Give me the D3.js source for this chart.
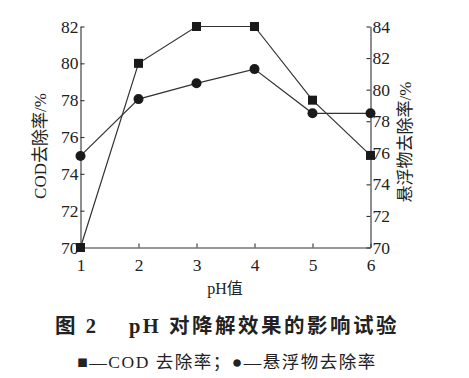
<!DOCTYPE html>
<html>
<head>
<meta charset="utf-8">
<script src="https://cdn.jsdelivr.net/npm/d3@7"></script>
<style>
body { margin: 0; background: #fff; }
svg text { font-family: "Liberation Serif", "Noto Sans CJK SC", serif; fill: #222; }
</style>
</head>
<body>
<script>
var ph = [1, 2, 3, 4, 5, 6];
var codRate = [70, 80, 82, 82, 78, 75];
var ssRate = [75.8, 79.4, 80.4, 81.3, 78.5, 78.5];
var leftTicks = [70, 72, 74, 76, 78, 80, 82];
var rightTicks = [70, 72, 74, 76, 78, 80, 82, 84];

var width = 469,
    height = 378;
var svg = d3.select('body').append('svg')
    .attr('width', width)
    .attr('height', height);

var x = d3.scaleLinear().domain([1, 6]).range([80.5, 370.5]);
var yL = d3.scaleLinear().domain([70, 82]).range([247.5, 26.5]);
var yR = d3.scaleLinear().domain([70, 84]).range([247.5, 26.5]);

var ink = '#333';

// axes, ticks pointing inward
var gx = svg.append('g').attr('transform', 'translate(0,247.5)')
    .call(d3.axisBottom(x).tickValues(ph).tickFormat(d3.format('d')).tickSizeInner(-4).tickSizeOuter(0).tickPadding(11));
var gl = svg.append('g').attr('transform', 'translate(80.5,0)')
    .call(d3.axisLeft(yL).tickValues(leftTicks).tickSizeInner(-4).tickSizeOuter(0).tickPadding(2));
var gr = svg.append('g').attr('transform', 'translate(370.5,0)')
    .call(d3.axisRight(yR).tickValues(rightTicks).tickSizeInner(-4).tickSizeOuter(0).tickPadding(2));

[gx, gl, gr].forEach(function(g) {
    g.selectAll('path, line').attr('stroke', ink).attr('stroke-width', 1.1);
    g.selectAll('text').attr('font-size', 17.5).attr('font-family', '"Liberation Serif", serif').attr('fill', '#222');
});
gx.selectAll('text').attr('dy', '0.71em');

// lines
var lineL = d3.line().x(function(d, i) { return x(ph[i]); }).y(function(d) { return yL(d); });
var lineR = d3.line().x(function(d, i) { return x(ph[i]); }).y(function(d) { return yR(d); });

svg.append('path').attr('d', lineL(codRate)).attr('fill', 'none').attr('stroke', ink).attr('stroke-width', 1.2);
svg.append('path').attr('d', lineR(ssRate)).attr('fill', 'none').attr('stroke', ink).attr('stroke-width', 1.2);

svg.selectAll('rect.cod')
    .data(codRate)
    .enter()
    .append('rect')
    .attr('class', 'cod')
    .attr('x', function(d, i) { return x(ph[i]) - 4.5; })
    .attr('y', function(d) { return yL(d) - 4.5; })
    .attr('width', 9)
    .attr('height', 9)
    .attr('fill', '#1a1a1a');

svg.selectAll('circle.ss')
    .data(ssRate)
    .enter()
    .append('circle')
    .attr('class', 'ss')
    .attr('cx', function(d, i) { return x(ph[i]); })
    .attr('cy', function(d) { return yR(d); })
    .attr('r', 5)
    .attr('fill', '#1a1a1a');

// axis titles
svg.append('text')
    .attr('transform', 'translate(46,146) rotate(-90)')
    .attr('text-anchor', 'middle')
    .attr('font-size', 17)
    .text('COD去除率/%');

svg.append('text')
    .attr('transform', 'translate(411,142) rotate(-90)')
    .attr('text-anchor', 'middle')
    .attr('font-size', 17)
    .text('悬浮物去除率/%');

svg.append('text')
    .attr('x', 225).attr('y', 294)
    .attr('text-anchor', 'middle')
    .attr('font-size', 16)
    .text('pH值');

// caption
svg.append('text')
    .attr('x', 227).attr('y', 333)
    .attr('text-anchor', 'middle')
    .attr('font-size', 20.5)
    .attr('font-weight', 'bold')
    .attr('letter-spacing', 2.5)
    .attr('xml:space', 'preserve')
    .text('图 2    pH 对降解效果的影响试验');

svg.append('text')
    .attr('x', 227).attr('y', 368)
    .attr('text-anchor', 'middle')
    .attr('font-size', 17.5)
    .attr('letter-spacing', 1.5)
    .text('■—COD 去除率；●—悬浮物去除率');
</script>
</body>
</html>
